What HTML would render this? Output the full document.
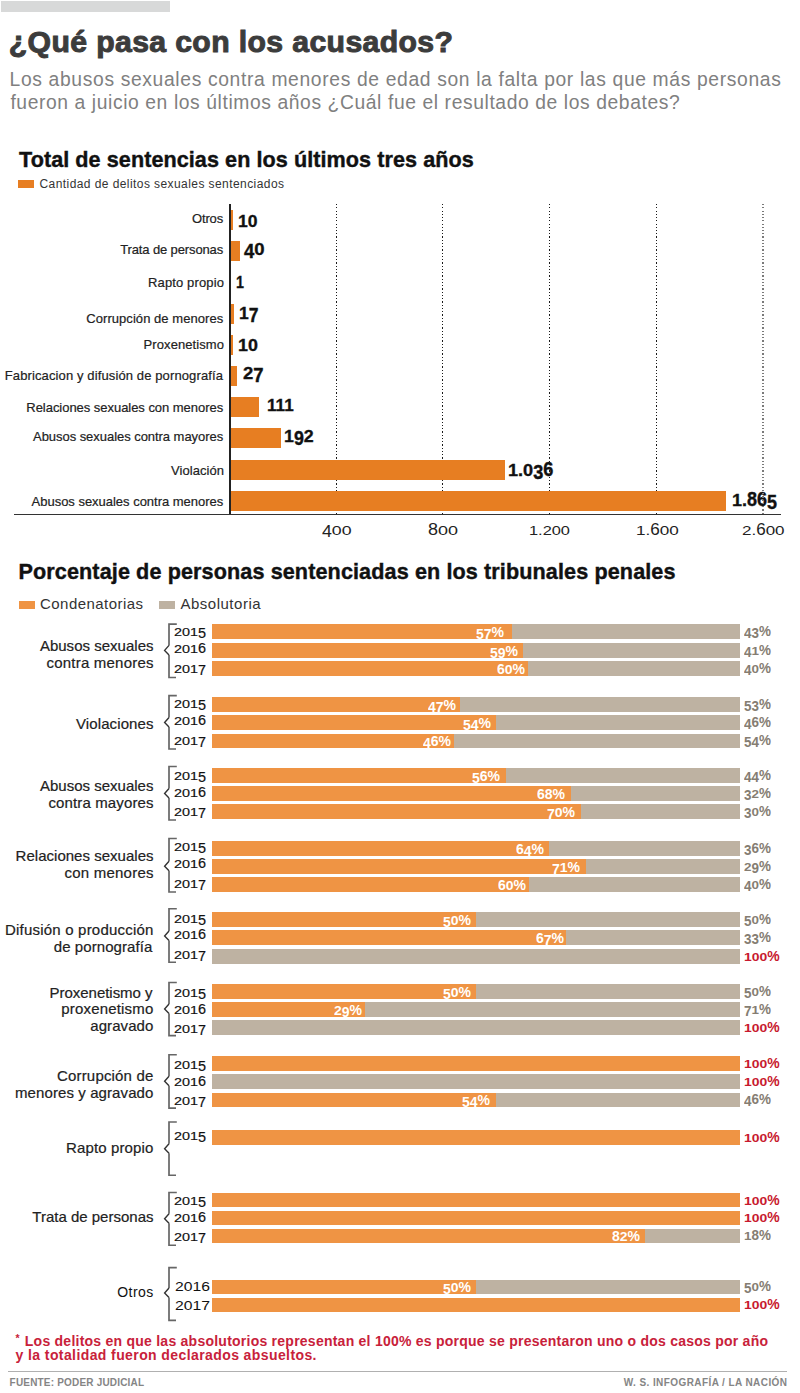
<!DOCTYPE html>
<html lang="es"><head><meta charset="utf-8"><title>¿Qué pasa con los acusados?</title>
<style>
html,body{margin:0;padding:0;background:#fff;}
body{width:800px;height:1393px;position:relative;overflow:hidden;font-family:"Liberation Sans",sans-serif;}
body>div{position:absolute;}
.t{white-space:nowrap;}
svg{position:absolute;left:0;top:0;}
</style></head><body>
<div style="left:1.10px;top:1.10px;width:168.80px;height:10.90px;background:#d8d9d9;"></div>
<div style="left:18.30px;top:180.40px;width:15.70px;height:7.80px;background:#E77E22;"></div>
<div style="z-index:1;left:336px;top:203.6px;width:1px;height:310px;background:repeating-linear-gradient(to bottom,#1a1a1a 0 1.1px,transparent 1.1px 3.25px);"></div>
<div style="z-index:1;left:442px;top:203.6px;width:1px;height:310px;background:repeating-linear-gradient(to bottom,#1a1a1a 0 1.1px,transparent 1.1px 3.25px);"></div>
<div style="z-index:1;left:549px;top:203.6px;width:1px;height:310px;background:repeating-linear-gradient(to bottom,#1a1a1a 0 1.1px,transparent 1.1px 3.25px);"></div>
<div style="z-index:1;left:656px;top:203.6px;width:1px;height:310px;background:repeating-linear-gradient(to bottom,#1a1a1a 0 1.1px,transparent 1.1px 3.25px);"></div>
<div style="z-index:1;left:762px;top:203.6px;width:2px;height:310px;background:repeating-linear-gradient(to bottom,#7a7a7a 0 1.1px,transparent 1.1px 3.25px);"></div>
<div style="left:230.60px;top:209.80px;width:2.30px;height:20.00px;background:#E77E22;z-index:2;"></div>
<div style="left:230.60px;top:241.25px;width:9.30px;height:20.00px;background:#E77E22;z-index:2;"></div>
<div style="left:230.60px;top:304.00px;width:3.80px;height:20.00px;background:#E77E22;z-index:2;"></div>
<div style="left:230.60px;top:335.00px;width:2.15px;height:20.00px;background:#E77E22;z-index:2;"></div>
<div style="left:230.60px;top:366.00px;width:6.65px;height:20.00px;background:#E77E22;z-index:2;"></div>
<div style="left:230.60px;top:397.00px;width:28.90px;height:20.00px;background:#E77E22;z-index:2;"></div>
<div style="left:230.60px;top:428.00px;width:50.40px;height:20.00px;background:#E77E22;z-index:2;"></div>
<div style="left:230.60px;top:459.70px;width:274.60px;height:20.00px;background:#E77E22;z-index:2;"></div>
<div style="left:230.60px;top:490.80px;width:495.40px;height:20.00px;background:#E77E22;z-index:2;"></div>
<div style="left:229.20px;top:204.00px;width:1.60px;height:311.00px;background:#222;"></div>
<div style="left:14.00px;top:513.50px;width:766.80px;height:1.30px;background:#333;"></div>
<div style="left:18.75px;top:600.70px;width:16.10px;height:7.90px;background:#EF9444;"></div>
<div style="left:159.40px;top:600.70px;width:16.10px;height:7.90px;background:#BEB2A2;"></div>
<div style="left:212.30px;top:624.30px;width:527.70px;height:14.50px;background:#BEB2A2;"></div>
<div style="left:212.30px;top:624.30px;width:299.70px;height:14.50px;background:#EF9444;"></div>
<div style="left:212.30px;top:643.00px;width:527.70px;height:14.50px;background:#BEB2A2;"></div>
<div style="left:212.30px;top:643.00px;width:310.80px;height:14.50px;background:#EF9444;"></div>
<div style="left:212.30px;top:661.30px;width:527.70px;height:14.50px;background:#BEB2A2;"></div>
<div style="left:212.30px;top:661.30px;width:315.80px;height:14.50px;background:#EF9444;"></div>
<div style="left:212.30px;top:697.10px;width:527.70px;height:14.50px;background:#BEB2A2;"></div>
<div style="left:212.30px;top:697.10px;width:247.70px;height:14.50px;background:#EF9444;"></div>
<div style="left:212.30px;top:715.40px;width:527.70px;height:14.50px;background:#BEB2A2;"></div>
<div style="left:212.30px;top:715.40px;width:283.95px;height:14.50px;background:#EF9444;"></div>
<div style="left:212.30px;top:733.50px;width:527.70px;height:14.50px;background:#BEB2A2;"></div>
<div style="left:212.30px;top:733.50px;width:242.20px;height:14.50px;background:#EF9444;"></div>
<div style="left:212.30px;top:768.10px;width:527.70px;height:14.50px;background:#BEB2A2;"></div>
<div style="left:212.30px;top:768.10px;width:293.95px;height:14.50px;background:#EF9444;"></div>
<div style="left:212.30px;top:786.25px;width:527.70px;height:14.50px;background:#BEB2A2;"></div>
<div style="left:212.30px;top:786.25px;width:358.45px;height:14.50px;background:#EF9444;"></div>
<div style="left:212.30px;top:804.40px;width:527.70px;height:14.50px;background:#BEB2A2;"></div>
<div style="left:212.30px;top:804.40px;width:368.45px;height:14.50px;background:#EF9444;"></div>
<div style="left:212.30px;top:841.00px;width:527.70px;height:14.50px;background:#BEB2A2;"></div>
<div style="left:212.30px;top:841.00px;width:337.20px;height:14.50px;background:#EF9444;"></div>
<div style="left:212.30px;top:859.00px;width:527.70px;height:14.50px;background:#BEB2A2;"></div>
<div style="left:212.30px;top:859.00px;width:373.95px;height:14.50px;background:#EF9444;"></div>
<div style="left:212.30px;top:877.25px;width:527.70px;height:14.50px;background:#BEB2A2;"></div>
<div style="left:212.30px;top:877.25px;width:316.45px;height:14.50px;background:#EF9444;"></div>
<div style="left:212.30px;top:912.10px;width:527.70px;height:14.50px;background:#BEB2A2;"></div>
<div style="left:212.30px;top:912.10px;width:263.45px;height:14.50px;background:#EF9444;"></div>
<div style="left:212.30px;top:930.25px;width:527.70px;height:14.50px;background:#BEB2A2;"></div>
<div style="left:212.30px;top:930.25px;width:353.95px;height:14.50px;background:#EF9444;"></div>
<div style="left:212.30px;top:949.00px;width:527.70px;height:14.50px;background:#BEB2A2;"></div>
<div style="left:212.30px;top:984.00px;width:527.70px;height:14.50px;background:#BEB2A2;"></div>
<div style="left:212.30px;top:984.00px;width:263.70px;height:14.50px;background:#EF9444;"></div>
<div style="left:212.30px;top:1002.25px;width:527.70px;height:14.50px;background:#BEB2A2;"></div>
<div style="left:212.30px;top:1002.25px;width:152.90px;height:14.50px;background:#EF9444;"></div>
<div style="left:212.30px;top:1020.25px;width:527.70px;height:14.50px;background:#BEB2A2;"></div>
<div style="left:212.30px;top:1056.25px;width:527.70px;height:14.50px;background:#EF9444;"></div>
<div style="left:212.30px;top:1074.40px;width:527.70px;height:14.50px;background:#BEB2A2;"></div>
<div style="left:212.30px;top:1092.50px;width:527.70px;height:14.50px;background:#BEB2A2;"></div>
<div style="left:212.30px;top:1092.50px;width:283.80px;height:14.50px;background:#EF9444;"></div>
<div style="left:212.30px;top:1130.00px;width:527.70px;height:14.50px;background:#EF9444;"></div>
<div style="left:212.30px;top:1192.90px;width:527.70px;height:14.50px;background:#EF9444;"></div>
<div style="left:212.30px;top:1210.60px;width:527.70px;height:14.50px;background:#EF9444;"></div>
<div style="left:212.30px;top:1228.50px;width:527.70px;height:14.50px;background:#BEB2A2;"></div>
<div style="left:212.30px;top:1228.50px;width:432.70px;height:14.50px;background:#EF9444;"></div>
<div style="left:212.30px;top:1279.60px;width:527.70px;height:14.50px;background:#BEB2A2;"></div>
<div style="left:212.30px;top:1279.60px;width:263.70px;height:14.50px;background:#EF9444;"></div>
<div style="left:212.30px;top:1297.60px;width:527.70px;height:14.50px;background:#EF9444;"></div>
<div style="left:8.40px;top:1370.80px;width:779.10px;height:1.10px;background:#b0b0b0;"></div>
<svg width="800" height="1393" viewBox="0 0 800 1393"><path d="M176.8 624.10 H169 V645.40" stroke="#666" stroke-width="1.7" fill="none"/><path d="M169 654.90 V677.50 H176" stroke="#666" stroke-width="1.7" fill="none"/><path d="M169 645.40 L164.6 650.40 L169 654.90" stroke="#333" stroke-width="1.4" fill="none" stroke-linejoin="miter"/><path d="M176.8 695.60 H169 V717.50" stroke="#666" stroke-width="1.7" fill="none"/><path d="M169 727.00 V749.00 H176" stroke="#666" stroke-width="1.7" fill="none"/><path d="M169 717.50 L164.6 722.50 L169 727.00" stroke="#333" stroke-width="1.4" fill="none" stroke-linejoin="miter"/><path d="M176.8 766.50 H169 V788.50" stroke="#666" stroke-width="1.7" fill="none"/><path d="M169 798.00 V820.00 H176" stroke="#666" stroke-width="1.7" fill="none"/><path d="M169 788.50 L164.6 793.50 L169 798.00" stroke="#333" stroke-width="1.4" fill="none" stroke-linejoin="miter"/><path d="M176.8 838.50 H169 V861.25" stroke="#666" stroke-width="1.7" fill="none"/><path d="M169 870.75 V892.00 H176" stroke="#666" stroke-width="1.7" fill="none"/><path d="M169 861.25 L164.6 866.25 L169 870.75" stroke="#333" stroke-width="1.4" fill="none" stroke-linejoin="miter"/><path d="M176.8 908.75 H169 V931.00" stroke="#666" stroke-width="1.7" fill="none"/><path d="M169 940.50 V962.25 H176" stroke="#666" stroke-width="1.7" fill="none"/><path d="M169 931.00 L164.6 936.00 L169 940.50" stroke="#333" stroke-width="1.4" fill="none" stroke-linejoin="miter"/><path d="M176.8 982.50 H169 V1004.00" stroke="#666" stroke-width="1.7" fill="none"/><path d="M169 1013.50 V1035.60 H176" stroke="#666" stroke-width="1.7" fill="none"/><path d="M169 1004.00 L164.6 1009.00 L169 1013.50" stroke="#333" stroke-width="1.4" fill="none" stroke-linejoin="miter"/><path d="M176.8 1054.75 H169 V1076.25" stroke="#666" stroke-width="1.7" fill="none"/><path d="M169 1085.75 V1108.20 H176" stroke="#666" stroke-width="1.7" fill="none"/><path d="M169 1076.25 L164.6 1081.25 L169 1085.75" stroke="#333" stroke-width="1.4" fill="none" stroke-linejoin="miter"/><path d="M176.8 1122.00 H169 V1143.75" stroke="#666" stroke-width="1.7" fill="none"/><path d="M169 1153.25 V1175.25 H176" stroke="#666" stroke-width="1.7" fill="none"/><path d="M169 1143.75 L164.6 1148.75 L169 1153.25" stroke="#333" stroke-width="1.4" fill="none" stroke-linejoin="miter"/><path d="M176.8 1192.50 H169 V1213.75" stroke="#666" stroke-width="1.7" fill="none"/><path d="M169 1223.25 V1245.25 H176" stroke="#666" stroke-width="1.7" fill="none"/><path d="M169 1213.75 L164.6 1218.75 L169 1223.25" stroke="#333" stroke-width="1.4" fill="none" stroke-linejoin="miter"/><path d="M176.8 1267.60 H169 V1288.00" stroke="#666" stroke-width="1.7" fill="none"/><path d="M169 1297.50 V1320.40 H176" stroke="#666" stroke-width="1.7" fill="none"/><path d="M169 1288.00 L164.6 1293.00 L169 1297.50" stroke="#333" stroke-width="1.4" fill="none" stroke-linejoin="miter"/></svg>
<div class="t" style="top:27.04px;font-size:30.2px;line-height:30.2px;font-weight:700;color:#3c3c3c;letter-spacing:0.373px;left:8.75px;-webkit-text-stroke:1px #3c3c3c;">¿Qué pasa con los acusados?</div>
<div class="t" style="top:70.06px;font-size:19.3px;line-height:19.3px;font-weight:400;color:#808080;letter-spacing:0.645px;left:9.60px;">Los abusos sexuales contra menores de edad son la falta por las que más personas</div>
<div class="t" style="top:92.56px;font-size:19.3px;line-height:19.3px;font-weight:400;color:#808080;letter-spacing:0.594px;left:10.40px;">fueron a juicio en los últimos años ¿Cuál fue el resultado de los debates?</div>
<div class="t" style="top:149.02px;font-size:21.6px;line-height:21.6px;font-weight:700;color:#111;letter-spacing:0.064px;left:19.00px;-webkit-text-stroke:0.4px #111;">Total de sentencias en los últimos tres años</div>
<div class="t" style="top:178.34px;font-size:12px;line-height:12px;font-weight:400;color:#333;letter-spacing:0.425px;left:39.50px;">Cantidad de delitos sexuales sentenciados</div>
<div class="t" style="top:212.00px;font-size:13px;line-height:13px;font-weight:400;color:#222;letter-spacing:-0.146px;left:192.00px;-webkit-text-stroke:0.2px #222;">Otros</div>
<div class="t" style="top:213.69px;font-size:15.6px;line-height:15.6px;font-weight:700;color:#111;left:238.10px;transform:scaleX(1.1260);transform-origin:0 0;-webkit-text-stroke:0.3px #111;">10</div>
<div class="t" style="top:243.00px;font-size:13px;line-height:13px;font-weight:400;color:#222;letter-spacing:-0.126px;left:120.20px;-webkit-text-stroke:0.2px #222;">Trata de personas</div>
<div class="t" style="top:242.19px;font-size:15.6px;line-height:15.6px;font-weight:700;color:#111;left:243.75px;transform:scaleX(1.1883);transform-origin:0 0;-webkit-text-stroke:0.3px #111;"><span style="display:inline-block;transform:scaleY(1.27);transform-origin:50% 2.29px">4</span>0</div>
<div class="t" style="top:275.80px;font-size:13px;line-height:13px;font-weight:400;color:#222;letter-spacing:0.136px;left:148.00px;-webkit-text-stroke:0.2px #222;">Rapto propio</div>
<div class="t" style="top:274.89px;font-size:15.6px;line-height:15.6px;font-weight:700;color:#111;left:235.50px;transform:scaleX(0.9167);transform-origin:0 0;-webkit-text-stroke:0.3px #111;">1</div>
<div class="t" style="top:312.00px;font-size:13px;line-height:13px;font-weight:400;color:#222;letter-spacing:0.053px;left:86.30px;-webkit-text-stroke:0.2px #222;">Corrupción de menores</div>
<div class="t" style="top:305.84px;font-size:15.6px;line-height:15.6px;font-weight:700;color:#111;left:239.40px;transform:scaleX(1.1216);transform-origin:0 0;-webkit-text-stroke:0.3px #111;">1<span style="display:inline-block;transform:scaleY(1.27);transform-origin:50% 2.29px">7</span></div>
<div class="t" style="top:337.90px;font-size:13px;line-height:13px;font-weight:400;color:#222;letter-spacing:0.077px;left:143.60px;-webkit-text-stroke:0.2px #222;">Proxenetismo</div>
<div class="t" style="top:338.09px;font-size:15.6px;line-height:15.6px;font-weight:700;color:#111;left:237.50px;transform:scaleX(1.1458);transform-origin:0 0;-webkit-text-stroke:0.3px #111;">10</div>
<div class="t" style="top:368.60px;font-size:13px;line-height:13px;font-weight:400;color:#222;letter-spacing:0.119px;left:4.75px;-webkit-text-stroke:0.2px #222;">Fabricacion y difusión de pornografía</div>
<div class="t" style="top:366.49px;font-size:15.6px;line-height:15.6px;font-weight:700;color:#111;left:242.75px;transform:scaleX(1.1846);transform-origin:0 0;-webkit-text-stroke:0.3px #111;">2<span style="display:inline-block;transform:scaleY(1.27);transform-origin:50% 2.29px">7</span></div>
<div class="t" style="top:400.70px;font-size:13px;line-height:13px;font-weight:400;color:#222;letter-spacing:-0.037px;left:26.30px;-webkit-text-stroke:0.2px #222;">Relaciones sexuales con menores</div>
<div class="t" style="top:398.19px;font-size:15.6px;line-height:15.6px;font-weight:700;color:#111;left:267.10px;transform:scaleX(1.0965);transform-origin:0 0;-webkit-text-stroke:0.3px #111;">111</div>
<div class="t" style="top:430.00px;font-size:13px;line-height:13px;font-weight:400;color:#222;letter-spacing:-0.044px;left:33.00px;-webkit-text-stroke:0.2px #222;">Abusos sexuales contra mayores</div>
<div class="t" style="top:428.99px;font-size:15.6px;line-height:15.6px;font-weight:700;color:#111;left:283.85px;transform:scaleX(1.1406);transform-origin:0 0;-webkit-text-stroke:0.3px #111;">1<span style="display:inline-block;transform:scaleY(1.27);transform-origin:50% 2.29px">9</span>2</div>
<div class="t" style="top:463.60px;font-size:13px;line-height:13px;font-weight:400;color:#222;letter-spacing:0.051px;left:171.00px;-webkit-text-stroke:0.2px #222;">Violación</div>
<div class="t" style="top:462.69px;font-size:15.6px;line-height:15.6px;font-weight:700;color:#111;left:508.25px;transform:scaleX(1.1626);transform-origin:0 0;-webkit-text-stroke:0.3px #111;">1.0<span style="display:inline-block;transform:scaleY(1.27);transform-origin:50% 2.29px">3</span><span style="display:inline-block;transform:scaleY(1.27);transform-origin:50% 13.21px">6</span></div>
<div class="t" style="top:494.70px;font-size:13px;line-height:13px;font-weight:400;color:#222;letter-spacing:-0.021px;left:31.60px;-webkit-text-stroke:0.2px #222;">Abusos sexuales contra menores</div>
<div class="t" style="top:492.69px;font-size:15.6px;line-height:15.6px;font-weight:700;color:#111;left:732.10px;transform:scaleX(1.1538);transform-origin:0 0;-webkit-text-stroke:0.3px #111;">1.<span style="display:inline-block;transform:scaleY(1.27);transform-origin:50% 13.21px">8</span><span style="display:inline-block;transform:scaleY(1.27);transform-origin:50% 13.21px">6</span><span style="display:inline-block;transform:scaleY(1.27);transform-origin:50% 2.29px">5</span></div>
<div class="t" style="top:523.66px;font-size:13.4px;line-height:13.4px;font-weight:400;color:#222;left:322.00px;transform:scaleX(1.3245);transform-origin:0 0;"><span style="display:inline-block;transform:scaleY(1.25);transform-origin:50% 1.96px">4</span>00</div>
<div class="t" style="top:523.66px;font-size:13.4px;line-height:13.4px;font-weight:400;color:#222;left:427.60px;transform:scaleX(1.3428);transform-origin:0 0;"><span style="display:inline-block;transform:scaleY(1.25);transform-origin:50% 11.34px">8</span>00</div>
<div class="t" style="top:523.66px;font-size:13.4px;line-height:13.4px;font-weight:400;color:#222;left:528.58px;transform:scaleX(1.2226);transform-origin:0 0;">1.200</div>
<div class="t" style="top:523.66px;font-size:13.4px;line-height:13.4px;font-weight:400;color:#222;left:635.97px;transform:scaleX(1.2772);transform-origin:0 0;">1.<span style="display:inline-block;transform:scaleY(1.25);transform-origin:50% 11.34px">6</span>00</div>
<div class="t" style="top:523.66px;font-size:13.4px;line-height:13.4px;font-weight:400;color:#222;left:741.60px;transform:scaleX(1.2703);transform-origin:0 0;">2.<span style="display:inline-block;transform:scaleY(1.25);transform-origin:50% 11.34px">6</span>00</div>
<div class="t" style="top:561.22px;font-size:21.6px;line-height:21.6px;font-weight:700;color:#111;letter-spacing:0.109px;left:18.50px;-webkit-text-stroke:0.4px #111;">Porcentaje de personas sentenciadas en los tribunales penales</div>
<div class="t" style="top:595.50px;font-size:15px;line-height:15px;font-weight:400;color:#333;letter-spacing:0.453px;left:40.00px;">Condenatorias</div>
<div class="t" style="top:595.50px;font-size:15px;line-height:15px;font-weight:400;color:#333;letter-spacing:0.520px;left:180.40px;">Absolutoria</div>
<div class="t" style="top:637.50px;font-size:15px;line-height:15px;font-weight:400;color:#222;letter-spacing:0.014px;left:39.90px;-webkit-text-stroke:0.2px #222;">Abusos sexuales</div>
<div class="t" style="top:655.10px;font-size:15px;line-height:15px;font-weight:400;color:#222;letter-spacing:0.214px;left:46.50px;-webkit-text-stroke:0.2px #222;">contra menores</div>
<div class="t" style="top:627.25px;font-size:11.4px;line-height:11.4px;font-weight:400;color:#111;left:174.30px;transform:scaleX(1.2638);transform-origin:0 0;-webkit-text-stroke:0.15px #111;">201<span style="display:inline-block;transform:scaleY(1.25);transform-origin:50% 1.67px">5</span></div>
<div class="t" style="top:626.81px;font-size:11.8px;line-height:11.8px;font-weight:700;color:#857d72;left:743.70px;transform:scaleX(1.1401);transform-origin:0 0;"><span style="display:inline-block;transform:scaleY(1.25);transform-origin:50% 1.73px">4</span><span style="display:inline-block;transform:scaleY(1.25);transform-origin:50% 1.73px">3</span><span style="display:inline-block;transform:scaleY(1.25);transform-origin:50% 9.99px">%</span></div>
<div class="t" style="top:627.17px;font-size:12.2px;line-height:12.2px;font-weight:700;color:#fff;left:475.55px;transform:scaleX(1.1484);transform-origin:0 0;"><span style="display:inline-block;transform:scaleY(1.25);transform-origin:50% 1.79px">5</span><span style="display:inline-block;transform:scaleY(1.25);transform-origin:50% 1.79px">7</span><span style="display:inline-block;transform:scaleY(1.25);transform-origin:50% 10.33px">%</span></div>
<div class="t" style="top:644.45px;font-size:11.4px;line-height:11.4px;font-weight:400;color:#111;left:174.30px;transform:scaleX(1.2638);transform-origin:0 0;-webkit-text-stroke:0.15px #111;">201<span style="display:inline-block;transform:scaleY(1.25);transform-origin:50% 9.65px">6</span></div>
<div class="t" style="top:645.51px;font-size:11.8px;line-height:11.8px;font-weight:700;color:#857d72;left:743.70px;transform:scaleX(1.1401);transform-origin:0 0;"><span style="display:inline-block;transform:scaleY(1.25);transform-origin:50% 1.73px">4</span>1<span style="display:inline-block;transform:scaleY(1.25);transform-origin:50% 9.99px">%</span></div>
<div class="t" style="top:645.87px;font-size:12.2px;line-height:12.2px;font-weight:700;color:#fff;left:489.55px;transform:scaleX(1.1484);transform-origin:0 0;"><span style="display:inline-block;transform:scaleY(1.25);transform-origin:50% 1.79px">5</span><span style="display:inline-block;transform:scaleY(1.25);transform-origin:50% 1.79px">9</span><span style="display:inline-block;transform:scaleY(1.25);transform-origin:50% 10.33px">%</span></div>
<div class="t" style="top:663.95px;font-size:11.4px;line-height:11.4px;font-weight:400;color:#111;left:174.30px;transform:scaleX(1.2638);transform-origin:0 0;-webkit-text-stroke:0.15px #111;">201<span style="display:inline-block;transform:scaleY(1.25);transform-origin:50% 1.67px">7</span></div>
<div class="t" style="top:663.81px;font-size:11.8px;line-height:11.8px;font-weight:700;color:#857d72;left:743.70px;transform:scaleX(1.1401);transform-origin:0 0;"><span style="display:inline-block;transform:scaleY(1.25);transform-origin:50% 1.73px">4</span>0<span style="display:inline-block;transform:scaleY(1.25);transform-origin:50% 9.99px">%</span></div>
<div class="t" style="top:664.17px;font-size:12.2px;line-height:12.2px;font-weight:700;color:#fff;left:496.80px;transform:scaleX(1.1484);transform-origin:0 0;"><span style="display:inline-block;transform:scaleY(1.25);transform-origin:50% 10.33px">6</span>0<span style="display:inline-block;transform:scaleY(1.25);transform-origin:50% 10.33px">%</span></div>
<div class="t" style="top:716.30px;font-size:15px;line-height:15px;font-weight:400;color:#222;letter-spacing:0.106px;left:76.00px;-webkit-text-stroke:0.2px #222;">Violaciones</div>
<div class="t" style="top:699.35px;font-size:11.4px;line-height:11.4px;font-weight:400;color:#111;left:174.30px;transform:scaleX(1.2638);transform-origin:0 0;-webkit-text-stroke:0.15px #111;">201<span style="display:inline-block;transform:scaleY(1.25);transform-origin:50% 1.67px">5</span></div>
<div class="t" style="top:699.61px;font-size:11.8px;line-height:11.8px;font-weight:700;color:#857d72;left:743.70px;transform:scaleX(1.1401);transform-origin:0 0;"><span style="display:inline-block;transform:scaleY(1.25);transform-origin:50% 1.73px">5</span><span style="display:inline-block;transform:scaleY(1.25);transform-origin:50% 1.73px">3</span><span style="display:inline-block;transform:scaleY(1.25);transform-origin:50% 9.99px">%</span></div>
<div class="t" style="top:699.97px;font-size:12.2px;line-height:12.2px;font-weight:700;color:#fff;left:428.05px;transform:scaleX(1.1484);transform-origin:0 0;"><span style="display:inline-block;transform:scaleY(1.25);transform-origin:50% 1.79px">4</span><span style="display:inline-block;transform:scaleY(1.25);transform-origin:50% 1.79px">7</span><span style="display:inline-block;transform:scaleY(1.25);transform-origin:50% 10.33px">%</span></div>
<div class="t" style="top:716.10px;font-size:11.4px;line-height:11.4px;font-weight:400;color:#111;left:174.30px;transform:scaleX(1.2638);transform-origin:0 0;-webkit-text-stroke:0.15px #111;">201<span style="display:inline-block;transform:scaleY(1.25);transform-origin:50% 9.65px">6</span></div>
<div class="t" style="top:717.91px;font-size:11.8px;line-height:11.8px;font-weight:700;color:#857d72;left:743.70px;transform:scaleX(1.1401);transform-origin:0 0;"><span style="display:inline-block;transform:scaleY(1.25);transform-origin:50% 1.73px">4</span><span style="display:inline-block;transform:scaleY(1.25);transform-origin:50% 9.99px">6</span><span style="display:inline-block;transform:scaleY(1.25);transform-origin:50% 9.99px">%</span></div>
<div class="t" style="top:718.27px;font-size:12.2px;line-height:12.2px;font-weight:700;color:#fff;left:463.05px;transform:scaleX(1.1484);transform-origin:0 0;"><span style="display:inline-block;transform:scaleY(1.25);transform-origin:50% 1.79px">5</span><span style="display:inline-block;transform:scaleY(1.25);transform-origin:50% 1.79px">4</span><span style="display:inline-block;transform:scaleY(1.25);transform-origin:50% 10.33px">%</span></div>
<div class="t" style="top:735.85px;font-size:11.4px;line-height:11.4px;font-weight:400;color:#111;left:174.30px;transform:scaleX(1.2638);transform-origin:0 0;-webkit-text-stroke:0.15px #111;">201<span style="display:inline-block;transform:scaleY(1.25);transform-origin:50% 1.67px">7</span></div>
<div class="t" style="top:736.01px;font-size:11.8px;line-height:11.8px;font-weight:700;color:#857d72;left:743.70px;transform:scaleX(1.1401);transform-origin:0 0;"><span style="display:inline-block;transform:scaleY(1.25);transform-origin:50% 1.73px">5</span><span style="display:inline-block;transform:scaleY(1.25);transform-origin:50% 1.73px">4</span><span style="display:inline-block;transform:scaleY(1.25);transform-origin:50% 9.99px">%</span></div>
<div class="t" style="top:736.37px;font-size:12.2px;line-height:12.2px;font-weight:700;color:#fff;left:423.05px;transform:scaleX(1.1484);transform-origin:0 0;"><span style="display:inline-block;transform:scaleY(1.25);transform-origin:50% 1.79px">4</span><span style="display:inline-block;transform:scaleY(1.25);transform-origin:50% 10.33px">6</span><span style="display:inline-block;transform:scaleY(1.25);transform-origin:50% 10.33px">%</span></div>
<div class="t" style="top:777.50px;font-size:15px;line-height:15px;font-weight:400;color:#222;left:40.00px;-webkit-text-stroke:0.2px #222;">Abusos sexuales</div>
<div class="t" style="top:794.50px;font-size:15px;line-height:15px;font-weight:400;color:#222;letter-spacing:0.133px;left:48.40px;-webkit-text-stroke:0.2px #222;">contra mayores</div>
<div class="t" style="top:771.10px;font-size:11.4px;line-height:11.4px;font-weight:400;color:#111;left:174.30px;transform:scaleX(1.2638);transform-origin:0 0;-webkit-text-stroke:0.15px #111;">201<span style="display:inline-block;transform:scaleY(1.25);transform-origin:50% 1.67px">5</span></div>
<div class="t" style="top:770.61px;font-size:11.8px;line-height:11.8px;font-weight:700;color:#857d72;left:743.70px;transform:scaleX(1.1401);transform-origin:0 0;"><span style="display:inline-block;transform:scaleY(1.25);transform-origin:50% 1.73px">4</span><span style="display:inline-block;transform:scaleY(1.25);transform-origin:50% 1.73px">4</span><span style="display:inline-block;transform:scaleY(1.25);transform-origin:50% 9.99px">%</span></div>
<div class="t" style="top:770.97px;font-size:12.2px;line-height:12.2px;font-weight:700;color:#fff;left:472.30px;transform:scaleX(1.1484);transform-origin:0 0;"><span style="display:inline-block;transform:scaleY(1.25);transform-origin:50% 1.79px">5</span><span style="display:inline-block;transform:scaleY(1.25);transform-origin:50% 10.33px">6</span><span style="display:inline-block;transform:scaleY(1.25);transform-origin:50% 10.33px">%</span></div>
<div class="t" style="top:788.10px;font-size:11.4px;line-height:11.4px;font-weight:400;color:#111;left:174.30px;transform:scaleX(1.2638);transform-origin:0 0;-webkit-text-stroke:0.15px #111;">201<span style="display:inline-block;transform:scaleY(1.25);transform-origin:50% 9.65px">6</span></div>
<div class="t" style="top:788.76px;font-size:11.8px;line-height:11.8px;font-weight:700;color:#857d72;left:743.70px;transform:scaleX(1.1401);transform-origin:0 0;"><span style="display:inline-block;transform:scaleY(1.25);transform-origin:50% 1.73px">3</span>2<span style="display:inline-block;transform:scaleY(1.25);transform-origin:50% 9.99px">%</span></div>
<div class="t" style="top:789.12px;font-size:12.2px;line-height:12.2px;font-weight:700;color:#fff;left:537.30px;transform:scaleX(1.1484);transform-origin:0 0;"><span style="display:inline-block;transform:scaleY(1.25);transform-origin:50% 10.33px">6</span><span style="display:inline-block;transform:scaleY(1.25);transform-origin:50% 10.33px">8</span><span style="display:inline-block;transform:scaleY(1.25);transform-origin:50% 10.33px">%</span></div>
<div class="t" style="top:807.10px;font-size:11.4px;line-height:11.4px;font-weight:400;color:#111;left:174.30px;transform:scaleX(1.2638);transform-origin:0 0;-webkit-text-stroke:0.15px #111;">201<span style="display:inline-block;transform:scaleY(1.25);transform-origin:50% 1.67px">7</span></div>
<div class="t" style="top:806.91px;font-size:11.8px;line-height:11.8px;font-weight:700;color:#857d72;left:743.70px;transform:scaleX(1.1401);transform-origin:0 0;"><span style="display:inline-block;transform:scaleY(1.25);transform-origin:50% 1.73px">3</span>0<span style="display:inline-block;transform:scaleY(1.25);transform-origin:50% 9.99px">%</span></div>
<div class="t" style="top:807.27px;font-size:12.2px;line-height:12.2px;font-weight:700;color:#fff;left:546.80px;transform:scaleX(1.1484);transform-origin:0 0;"><span style="display:inline-block;transform:scaleY(1.25);transform-origin:50% 1.79px">7</span>0<span style="display:inline-block;transform:scaleY(1.25);transform-origin:50% 10.33px">%</span></div>
<div class="t" style="top:848.30px;font-size:15px;line-height:15px;font-weight:400;color:#222;letter-spacing:0.018px;left:15.60px;-webkit-text-stroke:0.2px #222;">Relaciones sexuales</div>
<div class="t" style="top:865.30px;font-size:15px;line-height:15px;font-weight:400;color:#222;letter-spacing:0.239px;left:64.40px;-webkit-text-stroke:0.2px #222;">con menores</div>
<div class="t" style="top:842.35px;font-size:11.4px;line-height:11.4px;font-weight:400;color:#111;left:174.30px;transform:scaleX(1.2638);transform-origin:0 0;-webkit-text-stroke:0.15px #111;">201<span style="display:inline-block;transform:scaleY(1.25);transform-origin:50% 1.67px">5</span></div>
<div class="t" style="top:843.51px;font-size:11.8px;line-height:11.8px;font-weight:700;color:#857d72;left:743.70px;transform:scaleX(1.1401);transform-origin:0 0;"><span style="display:inline-block;transform:scaleY(1.25);transform-origin:50% 1.73px">3</span><span style="display:inline-block;transform:scaleY(1.25);transform-origin:50% 9.99px">6</span><span style="display:inline-block;transform:scaleY(1.25);transform-origin:50% 9.99px">%</span></div>
<div class="t" style="top:843.87px;font-size:12.2px;line-height:12.2px;font-weight:700;color:#fff;left:516.05px;transform:scaleX(1.1484);transform-origin:0 0;"><span style="display:inline-block;transform:scaleY(1.25);transform-origin:50% 10.33px">6</span><span style="display:inline-block;transform:scaleY(1.25);transform-origin:50% 1.79px">4</span><span style="display:inline-block;transform:scaleY(1.25);transform-origin:50% 10.33px">%</span></div>
<div class="t" style="top:859.35px;font-size:11.4px;line-height:11.4px;font-weight:400;color:#111;left:174.30px;transform:scaleX(1.2638);transform-origin:0 0;-webkit-text-stroke:0.15px #111;">201<span style="display:inline-block;transform:scaleY(1.25);transform-origin:50% 9.65px">6</span></div>
<div class="t" style="top:861.51px;font-size:11.8px;line-height:11.8px;font-weight:700;color:#857d72;left:743.70px;transform:scaleX(1.1401);transform-origin:0 0;">2<span style="display:inline-block;transform:scaleY(1.25);transform-origin:50% 1.73px">9</span><span style="display:inline-block;transform:scaleY(1.25);transform-origin:50% 9.99px">%</span></div>
<div class="t" style="top:861.87px;font-size:12.2px;line-height:12.2px;font-weight:700;color:#fff;left:552.30px;transform:scaleX(1.1484);transform-origin:0 0;"><span style="display:inline-block;transform:scaleY(1.25);transform-origin:50% 1.79px">7</span>1<span style="display:inline-block;transform:scaleY(1.25);transform-origin:50% 10.33px">%</span></div>
<div class="t" style="top:878.85px;font-size:11.4px;line-height:11.4px;font-weight:400;color:#111;left:174.30px;transform:scaleX(1.2638);transform-origin:0 0;-webkit-text-stroke:0.15px #111;">201<span style="display:inline-block;transform:scaleY(1.25);transform-origin:50% 1.67px">7</span></div>
<div class="t" style="top:879.76px;font-size:11.8px;line-height:11.8px;font-weight:700;color:#857d72;left:743.70px;transform:scaleX(1.1401);transform-origin:0 0;"><span style="display:inline-block;transform:scaleY(1.25);transform-origin:50% 1.73px">4</span>0<span style="display:inline-block;transform:scaleY(1.25);transform-origin:50% 9.99px">%</span></div>
<div class="t" style="top:880.12px;font-size:12.2px;line-height:12.2px;font-weight:700;color:#fff;left:498.05px;transform:scaleX(1.1484);transform-origin:0 0;"><span style="display:inline-block;transform:scaleY(1.25);transform-origin:50% 10.33px">6</span>0<span style="display:inline-block;transform:scaleY(1.25);transform-origin:50% 10.33px">%</span></div>
<div class="t" style="top:921.70px;font-size:15px;line-height:15px;font-weight:400;color:#222;letter-spacing:0.205px;left:5.00px;-webkit-text-stroke:0.2px #222;">Difusión o producción</div>
<div class="t" style="top:938.90px;font-size:15px;line-height:15px;font-weight:400;color:#222;letter-spacing:0.075px;left:53.80px;-webkit-text-stroke:0.2px #222;">de pornografía</div>
<div class="t" style="top:913.85px;font-size:11.4px;line-height:11.4px;font-weight:400;color:#111;left:174.30px;transform:scaleX(1.2638);transform-origin:0 0;-webkit-text-stroke:0.15px #111;">201<span style="display:inline-block;transform:scaleY(1.25);transform-origin:50% 1.67px">5</span></div>
<div class="t" style="top:914.61px;font-size:11.8px;line-height:11.8px;font-weight:700;color:#857d72;left:743.70px;transform:scaleX(1.1401);transform-origin:0 0;"><span style="display:inline-block;transform:scaleY(1.25);transform-origin:50% 1.73px">5</span>0<span style="display:inline-block;transform:scaleY(1.25);transform-origin:50% 9.99px">%</span></div>
<div class="t" style="top:914.97px;font-size:12.2px;line-height:12.2px;font-weight:700;color:#fff;left:443.05px;transform:scaleX(1.1484);transform-origin:0 0;"><span style="display:inline-block;transform:scaleY(1.25);transform-origin:50% 1.79px">5</span>0<span style="display:inline-block;transform:scaleY(1.25);transform-origin:50% 10.33px">%</span></div>
<div class="t" style="top:930.35px;font-size:11.4px;line-height:11.4px;font-weight:400;color:#111;left:174.30px;transform:scaleX(1.2638);transform-origin:0 0;-webkit-text-stroke:0.15px #111;">201<span style="display:inline-block;transform:scaleY(1.25);transform-origin:50% 9.65px">6</span></div>
<div class="t" style="top:932.76px;font-size:11.8px;line-height:11.8px;font-weight:700;color:#857d72;left:743.70px;transform:scaleX(1.1401);transform-origin:0 0;"><span style="display:inline-block;transform:scaleY(1.25);transform-origin:50% 1.73px">3</span><span style="display:inline-block;transform:scaleY(1.25);transform-origin:50% 1.73px">3</span><span style="display:inline-block;transform:scaleY(1.25);transform-origin:50% 9.99px">%</span></div>
<div class="t" style="top:933.12px;font-size:12.2px;line-height:12.2px;font-weight:700;color:#fff;left:535.55px;transform:scaleX(1.1484);transform-origin:0 0;"><span style="display:inline-block;transform:scaleY(1.25);transform-origin:50% 10.33px">6</span><span style="display:inline-block;transform:scaleY(1.25);transform-origin:50% 1.79px">7</span><span style="display:inline-block;transform:scaleY(1.25);transform-origin:50% 10.33px">%</span></div>
<div class="t" style="top:949.85px;font-size:11.4px;line-height:11.4px;font-weight:400;color:#111;left:174.30px;transform:scaleX(1.2638);transform-origin:0 0;-webkit-text-stroke:0.15px #111;">201<span style="display:inline-block;transform:scaleY(1.25);transform-origin:50% 1.67px">7</span></div>
<div class="t" style="top:951.81px;font-size:11.8px;line-height:11.8px;font-weight:700;color:#C8192E;left:743.75px;transform:scaleX(1.1815);transform-origin:0 0;">100<span style="display:inline-block;transform:scaleY(1.25);transform-origin:50% 9.99px">%</span></div>
<div class="t" style="top:984.60px;font-size:15px;line-height:15px;font-weight:400;color:#222;letter-spacing:-0.036px;left:49.60px;-webkit-text-stroke:0.2px #222;">Proxenetismo y</div>
<div class="t" style="top:1001.00px;font-size:15px;line-height:15px;font-weight:400;color:#222;letter-spacing:0.191px;left:61.20px;-webkit-text-stroke:0.2px #222;">proxenetismo</div>
<div class="t" style="top:1018.00px;font-size:15px;line-height:15px;font-weight:400;color:#222;letter-spacing:0.070px;left:90.30px;-webkit-text-stroke:0.2px #222;">agravado</div>
<div class="t" style="top:988.10px;font-size:11.4px;line-height:11.4px;font-weight:400;color:#111;left:174.30px;transform:scaleX(1.2638);transform-origin:0 0;-webkit-text-stroke:0.15px #111;">201<span style="display:inline-block;transform:scaleY(1.25);transform-origin:50% 1.67px">5</span></div>
<div class="t" style="top:986.51px;font-size:11.8px;line-height:11.8px;font-weight:700;color:#857d72;left:743.70px;transform:scaleX(1.1401);transform-origin:0 0;"><span style="display:inline-block;transform:scaleY(1.25);transform-origin:50% 1.73px">5</span>0<span style="display:inline-block;transform:scaleY(1.25);transform-origin:50% 9.99px">%</span></div>
<div class="t" style="top:986.87px;font-size:12.2px;line-height:12.2px;font-weight:700;color:#fff;left:442.80px;transform:scaleX(1.1484);transform-origin:0 0;"><span style="display:inline-block;transform:scaleY(1.25);transform-origin:50% 1.79px">5</span>0<span style="display:inline-block;transform:scaleY(1.25);transform-origin:50% 10.33px">%</span></div>
<div class="t" style="top:1005.10px;font-size:11.4px;line-height:11.4px;font-weight:400;color:#111;left:174.30px;transform:scaleX(1.2638);transform-origin:0 0;-webkit-text-stroke:0.15px #111;">201<span style="display:inline-block;transform:scaleY(1.25);transform-origin:50% 9.65px">6</span></div>
<div class="t" style="top:1004.76px;font-size:11.8px;line-height:11.8px;font-weight:700;color:#857d72;left:743.70px;transform:scaleX(1.1401);transform-origin:0 0;"><span style="display:inline-block;transform:scaleY(1.25);transform-origin:50% 1.73px">7</span>1<span style="display:inline-block;transform:scaleY(1.25);transform-origin:50% 9.99px">%</span></div>
<div class="t" style="top:1005.12px;font-size:12.2px;line-height:12.2px;font-weight:700;color:#fff;left:333.70px;transform:scaleX(1.1484);transform-origin:0 0;">2<span style="display:inline-block;transform:scaleY(1.25);transform-origin:50% 1.79px">9</span><span style="display:inline-block;transform:scaleY(1.25);transform-origin:50% 10.33px">%</span></div>
<div class="t" style="top:1024.35px;font-size:11.4px;line-height:11.4px;font-weight:400;color:#111;left:174.30px;transform:scaleX(1.2638);transform-origin:0 0;-webkit-text-stroke:0.15px #111;">201<span style="display:inline-block;transform:scaleY(1.25);transform-origin:50% 1.67px">7</span></div>
<div class="t" style="top:1023.06px;font-size:11.8px;line-height:11.8px;font-weight:700;color:#C8192E;left:743.75px;transform:scaleX(1.1815);transform-origin:0 0;">100<span style="display:inline-block;transform:scaleY(1.25);transform-origin:50% 9.99px">%</span></div>
<div class="t" style="top:1068.10px;font-size:15px;line-height:15px;font-weight:400;color:#222;letter-spacing:0.177px;left:57.00px;-webkit-text-stroke:0.2px #222;">Corrupción de</div>
<div class="t" style="top:1085.10px;font-size:15px;line-height:15px;font-weight:400;color:#222;letter-spacing:0.094px;left:15.00px;-webkit-text-stroke:0.2px #222;">menores y agravado</div>
<div class="t" style="top:1060.10px;font-size:11.4px;line-height:11.4px;font-weight:400;color:#111;left:174.30px;transform:scaleX(1.2638);transform-origin:0 0;-webkit-text-stroke:0.15px #111;">201<span style="display:inline-block;transform:scaleY(1.25);transform-origin:50% 1.67px">5</span></div>
<div class="t" style="top:1059.06px;font-size:11.8px;line-height:11.8px;font-weight:700;color:#C8192E;left:743.75px;transform:scaleX(1.1815);transform-origin:0 0;">100<span style="display:inline-block;transform:scaleY(1.25);transform-origin:50% 9.99px">%</span></div>
<div class="t" style="top:1076.85px;font-size:11.4px;line-height:11.4px;font-weight:400;color:#111;left:174.30px;transform:scaleX(1.2638);transform-origin:0 0;-webkit-text-stroke:0.15px #111;">201<span style="display:inline-block;transform:scaleY(1.25);transform-origin:50% 9.65px">6</span></div>
<div class="t" style="top:1077.21px;font-size:11.8px;line-height:11.8px;font-weight:700;color:#C8192E;left:743.75px;transform:scaleX(1.1815);transform-origin:0 0;">100<span style="display:inline-block;transform:scaleY(1.25);transform-origin:50% 9.99px">%</span></div>
<div class="t" style="top:1096.35px;font-size:11.4px;line-height:11.4px;font-weight:400;color:#111;left:174.30px;transform:scaleX(1.2638);transform-origin:0 0;-webkit-text-stroke:0.15px #111;">201<span style="display:inline-block;transform:scaleY(1.25);transform-origin:50% 1.67px">7</span></div>
<div class="t" style="top:1095.01px;font-size:11.8px;line-height:11.8px;font-weight:700;color:#857d72;left:743.70px;transform:scaleX(1.1401);transform-origin:0 0;"><span style="display:inline-block;transform:scaleY(1.25);transform-origin:50% 1.73px">4</span><span style="display:inline-block;transform:scaleY(1.25);transform-origin:50% 9.99px">6</span><span style="display:inline-block;transform:scaleY(1.25);transform-origin:50% 9.99px">%</span></div>
<div class="t" style="top:1095.37px;font-size:12.2px;line-height:12.2px;font-weight:700;color:#fff;left:461.60px;transform:scaleX(1.1484);transform-origin:0 0;"><span style="display:inline-block;transform:scaleY(1.25);transform-origin:50% 1.79px">5</span><span style="display:inline-block;transform:scaleY(1.25);transform-origin:50% 1.79px">4</span><span style="display:inline-block;transform:scaleY(1.25);transform-origin:50% 10.33px">%</span></div>
<div class="t" style="top:1139.70px;font-size:15px;line-height:15px;font-weight:400;color:#222;letter-spacing:0.132px;left:66.00px;-webkit-text-stroke:0.2px #222;">Rapto propio</div>
<div class="t" style="top:1130.65px;font-size:11.4px;line-height:11.4px;font-weight:400;color:#111;left:174.30px;transform:scaleX(1.2638);transform-origin:0 0;-webkit-text-stroke:0.15px #111;">201<span style="display:inline-block;transform:scaleY(1.25);transform-origin:50% 1.67px">5</span></div>
<div class="t" style="top:1132.81px;font-size:11.8px;line-height:11.8px;font-weight:700;color:#C8192E;left:743.75px;transform:scaleX(1.1815);transform-origin:0 0;">100<span style="display:inline-block;transform:scaleY(1.25);transform-origin:50% 9.99px">%</span></div>
<div class="t" style="top:1209.40px;font-size:15px;line-height:15px;font-weight:400;color:#222;left:32.30px;-webkit-text-stroke:0.2px #222;">Trata de personas</div>
<div class="t" style="top:1195.85px;font-size:11.4px;line-height:11.4px;font-weight:400;color:#111;left:174.30px;transform:scaleX(1.2638);transform-origin:0 0;-webkit-text-stroke:0.15px #111;">201<span style="display:inline-block;transform:scaleY(1.25);transform-origin:50% 1.67px">5</span></div>
<div class="t" style="top:1195.71px;font-size:11.8px;line-height:11.8px;font-weight:700;color:#C8192E;left:743.75px;transform:scaleX(1.1815);transform-origin:0 0;">100<span style="display:inline-block;transform:scaleY(1.25);transform-origin:50% 9.99px">%</span></div>
<div class="t" style="top:1212.60px;font-size:11.4px;line-height:11.4px;font-weight:400;color:#111;left:174.30px;transform:scaleX(1.2638);transform-origin:0 0;-webkit-text-stroke:0.15px #111;">201<span style="display:inline-block;transform:scaleY(1.25);transform-origin:50% 9.65px">6</span></div>
<div class="t" style="top:1213.41px;font-size:11.8px;line-height:11.8px;font-weight:700;color:#C8192E;left:743.75px;transform:scaleX(1.1815);transform-origin:0 0;">100<span style="display:inline-block;transform:scaleY(1.25);transform-origin:50% 9.99px">%</span></div>
<div class="t" style="top:1232.10px;font-size:11.4px;line-height:11.4px;font-weight:400;color:#111;left:174.30px;transform:scaleX(1.2638);transform-origin:0 0;-webkit-text-stroke:0.15px #111;">201<span style="display:inline-block;transform:scaleY(1.25);transform-origin:50% 1.67px">7</span></div>
<div class="t" style="top:1231.01px;font-size:11.8px;line-height:11.8px;font-weight:700;color:#857d72;left:743.70px;transform:scaleX(1.1401);transform-origin:0 0;">1<span style="display:inline-block;transform:scaleY(1.25);transform-origin:50% 9.99px">8</span><span style="display:inline-block;transform:scaleY(1.25);transform-origin:50% 9.99px">%</span></div>
<div class="t" style="top:1231.37px;font-size:12.2px;line-height:12.2px;font-weight:700;color:#fff;left:611.80px;transform:scaleX(1.1484);transform-origin:0 0;"><span style="display:inline-block;transform:scaleY(1.25);transform-origin:50% 10.33px">8</span>2<span style="display:inline-block;transform:scaleY(1.25);transform-origin:50% 10.33px">%</span></div>
<div class="t" style="top:1284.95px;font-size:14px;line-height:14px;font-weight:400;color:#111;letter-spacing:0.468px;left:117.20px;">Otros</div>
<div class="t" style="top:1279.96px;font-size:13.4px;line-height:13.4px;font-weight:400;color:#111;left:174.60px;transform:scaleX(1.1724);transform-origin:0 0;">2016</div>
<div class="t" style="top:1282.11px;font-size:11.8px;line-height:11.8px;font-weight:700;color:#857d72;left:743.70px;transform:scaleX(1.1401);transform-origin:0 0;"><span style="display:inline-block;transform:scaleY(1.25);transform-origin:50% 1.73px">5</span>0<span style="display:inline-block;transform:scaleY(1.25);transform-origin:50% 9.99px">%</span></div>
<div class="t" style="top:1282.47px;font-size:12.2px;line-height:12.2px;font-weight:700;color:#fff;left:443.30px;transform:scaleX(1.1484);transform-origin:0 0;"><span style="display:inline-block;transform:scaleY(1.25);transform-origin:50% 1.79px">5</span>0<span style="display:inline-block;transform:scaleY(1.25);transform-origin:50% 10.33px">%</span></div>
<div class="t" style="top:1298.66px;font-size:13.4px;line-height:13.4px;font-weight:400;color:#111;left:174.60px;transform:scaleX(1.1724);transform-origin:0 0;">2017</div>
<div class="t" style="top:1300.41px;font-size:11.8px;line-height:11.8px;font-weight:700;color:#C8192E;left:743.75px;transform:scaleX(1.1815);transform-origin:0 0;">100<span style="display:inline-block;transform:scaleY(1.25);transform-origin:50% 9.99px">%</span></div>
<div class="t" style="top:1332.71px;font-size:10.5px;line-height:10.5px;font-weight:700;color:#C8213A;left:15.60px;">*</div>
<div class="t" style="top:1333.85px;font-size:14px;line-height:14px;font-weight:700;color:#C8213A;letter-spacing:0.244px;left:24.80px;">Los delitos en que las absolutorios representan el 100% es porque se presentaron uno o dos casos por año</div>
<div class="t" style="top:1348.15px;font-size:14px;line-height:14px;font-weight:700;color:#C8213A;letter-spacing:0.403px;left:15.60px;">y la totalidad fueron declarados absueltos.</div>
<div class="t" style="top:1378.13px;font-size:10px;line-height:10px;font-weight:700;color:#858585;letter-spacing:0.188px;left:9.60px;">FUENTE: PODER JUDICIAL</div>
<div class="t" style="top:1377.84px;font-size:10px;line-height:10px;font-weight:700;color:#858585;letter-spacing:0.415px;left:623.75px;">W. S. INFOGRAFÍA / LA NACIÓN</div>
</body></html>
